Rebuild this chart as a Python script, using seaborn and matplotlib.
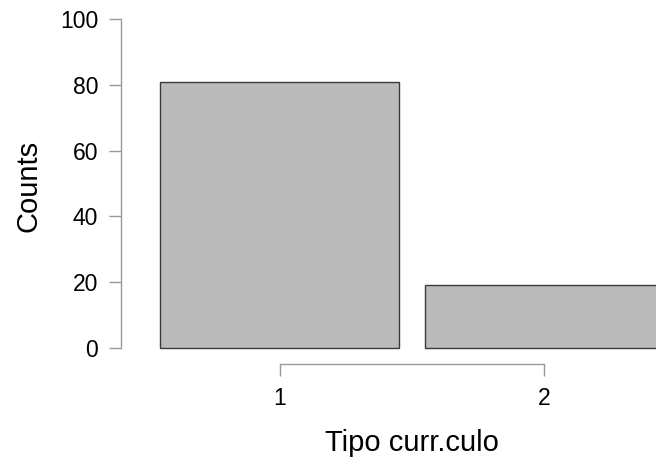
import matplotlib
matplotlib.use("Agg")
import matplotlib.pyplot as plt
import seaborn as sns
import pandas as pd

categories = ["1", "2"]
counts = [81, 19]
y_ticks = [0, 20, 40, 60, 80, 100]

df = pd.DataFrame({"tipo": categories, "counts": counts})

sns.set_style("white")
plt.rcParams["font.family"] = ["Liberation Sans", "DejaVu Sans"]

W, H = 656, 459
fig = plt.figure(figsize=(W / 100, H / 100), dpi=100)
# axes box in pixels: left 121, right 656, top 19, bottom 364
ax = fig.add_axes([121 / W, (H - 364) / H, (656 - 121) / W, (364 - 19) / H])

sns.barplot(data=df, x="tipo", y="counts", ax=ax, color="#bbbbbb",
            saturation=1, width=0.905, edgecolor="#3a3a3a", linewidth=1.0)

ax.set_xlim(-0.602, 1.424)
ax.set_ylim(-4.86, 100)
ax.set_yticks(y_ticks)

for s in ["top", "right"]:
    ax.spines[s].set_visible(False)
ax.spines["left"].set_bounds(0, 100)
ax.spines["bottom"].set_bounds(0, 1)
for s in ["left", "bottom"]:
    ax.spines[s].set_color("#999999")
    ax.spines[s].set_linewidth(1.0)

ax.tick_params(axis="both", direction="out", length=8.5, width=1.0,
               left=True, bottom=True,
               color="#999999", labelsize=16.5, labelcolor="black")
ax.tick_params(axis="y", pad=8)
ax.tick_params(axis="x", pad=8)

ax.set_xlabel("Tipo curr.culo", fontsize=21, color="black")
ax.set_ylabel("Counts", fontsize=21, color="black")
ax.xaxis.set_label_coords((412 - 121) / 535, -(429 - 364) / 345)
ax.yaxis.set_label_coords(-(121 - 42) / 535, (364 - 186) / 345)

fig.savefig("out.png", dpi=100)
